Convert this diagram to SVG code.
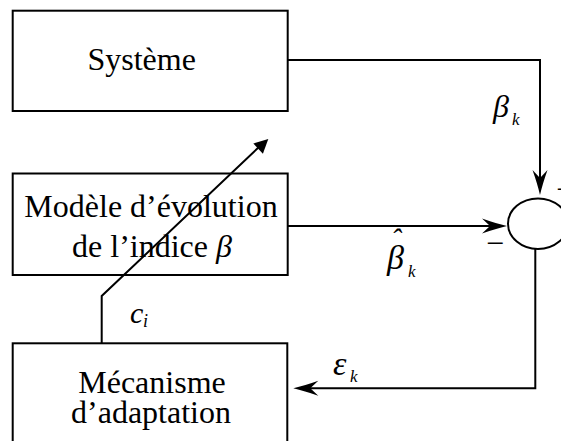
<svg xmlns="http://www.w3.org/2000/svg" width="561" height="441" viewBox="0 0 561 441">
<style>
.box{fill:#fff;stroke:#000;stroke-width:2}
.ln{fill:none;stroke:#000;stroke-width:2}
.hd{fill:#000;stroke:none}
.t{font-family:"Liberation Serif","Times New Roman",serif;font-size:32px;fill:#000}
.m{font-family:"Liberation Serif","Times New Roman",serif;font-style:italic;fill:#000}
</style>
<defs>
<path id="barb" d="M0,0 Q-11,-2.5 -25,-7.5 L-17,0 L-25,7.5 Q-11,2.5 0,0 Z"/>
</defs>
<rect width="561" height="441" fill="#fff"/>
<g id="systeme">
<rect class="box" x="12.7" y="10.7" width="275" height="100.3"/>
<text class="t" x="141.7" y="70" text-anchor="middle">Système</text>
</g>
<g id="modele">
<rect class="box" x="12.7" y="173.5" width="275" height="101.5"/>
<text class="t" x="151" y="217" text-anchor="middle">Modèle d’évolution</text>
<text class="t" x="152" y="256.7" text-anchor="middle">de l’indice <tspan font-style="italic">β</tspan></text>
</g>
<g id="mecanisme">
<rect class="box" x="12.7" y="343.3" width="274.6" height="130"/>
<text class="t" x="152" y="392.7" text-anchor="middle">Mécanisme</text>
<text class="t" x="151" y="423.3" text-anchor="middle">d’adaptation</text>
</g>
<g id="comparateur">
<ellipse class="ln" cx="538" cy="223.7" rx="30" ry="25.3"/>
<text class="t" x="556" y="200" font-size="28">−</text>
<text class="t" x="486" y="254" font-size="28">−</text>
</g>
<g id="connectors">
<path class="ln" d="M287.7,60 H540 V178"/>
<use href="#barb" class="hd" transform="translate(540,195) rotate(90)"/>
<path class="ln" d="M287.7,226 H490"/>
<use href="#barb" class="hd" transform="translate(507,226)"/>
<path class="ln" d="M535.3,249 V388.3 H310"/>
<use href="#barb" class="hd" transform="translate(293.3,388.3) rotate(180)"/>
<path class="ln" d="M101.7,343.3 V296 L259,147"/>
<path class="hd" d="M268.3,139 L262.9,153.7 L253.3,143.5 Z"/>
</g>
<g id="labels">
<text class="m" x="493" y="117" font-size="32">β</text>
<text class="m" x="512" y="125" font-size="17">k</text>
<text class="m" x="387" y="269" font-size="34">β</text>
<text class="m" x="391" y="249" font-size="30">ˆ</text>
<text class="m" x="408" y="277" font-size="17">k</text>
<text class="m" x="130" y="323.3" font-size="30">c</text>
<text class="m" x="143" y="327" font-size="18">i</text>
<text class="m" x="333" y="375" font-size="34">ε</text>
<text class="m" x="350" y="381.7" font-size="17">k</text>
</g>
</svg>
